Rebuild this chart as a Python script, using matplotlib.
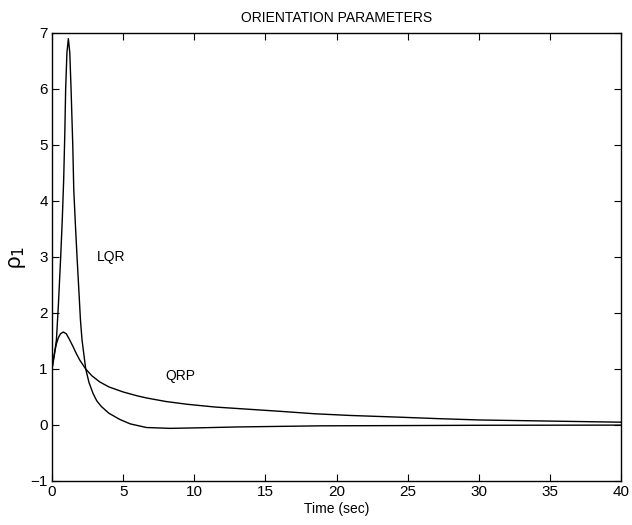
import matplotlib
matplotlib.use("Agg")
import matplotlib.pyplot as plt

# ====== DATA ======
lqr_t = [0, 0.15, 0.31, 0.45, 0.61, 0.72, 0.82, 0.9, 0.96, 1.05, 1.15, 1.25, 1.34,
         1.46, 1.53, 1.65, 1.76, 1.9, 2.0, 2.11, 2.37, 2.6, 2.88, 3.15, 3.47, 4.0,
         4.76, 5.5, 6.64, 8.3, 10.4, 13.0, 18.8, 25.0, 30.0, 40.0]
lqr_y = [1.0, 1.22, 1.52, 2.15, 3.0, 3.65, 4.375, 5.2, 6.0, 6.65, 6.9, 6.65, 6.0,
         5.0, 4.2, 3.55, 3.0, 2.35, 1.875, 1.52, 1.0, 0.76, 0.566, 0.43, 0.33, 0.21,
         0.10, 0.02, -0.045, -0.06, -0.05, -0.035, -0.015, -0.01, -0.005, -0.002]

qrp_t = [0, 0.1, 0.2, 0.31, 0.45, 0.6, 0.8, 1.0, 1.2, 1.48, 1.7, 1.95, 2.37, 2.8,
         3.35, 4.0, 5.0, 6.0, 6.7, 8.0, 9.5, 11.5, 13.9, 16.0, 18.5, 21.0, 24.4,
         27.0, 30.0, 35.0, 40.0]
qrp_y = [1.0, 1.18, 1.32, 1.45, 1.56, 1.63, 1.66, 1.63, 1.54, 1.40, 1.28, 1.16,
         1.0, 0.88, 0.77, 0.68, 0.59, 0.52, 0.48, 0.42, 0.37, 0.32, 0.28, 0.245,
         0.2, 0.17, 0.14, 0.115, 0.09, 0.07, 0.05]

x_ticks = [0, 5, 10, 15, 20, 25, 30, 35, 40]
y_ticks = [-1, 0, 1, 2, 3, 4, 5, 6, 7]

# ====== PLOT ======
plt.rcParams['font.family'] = ['Liberation Sans', 'DejaVu Sans']

fig = plt.figure(figsize=(6.32, 5.25), dpi=100)
ax = fig.add_axes([52 / 632, 1 - 481 / 525, 569 / 632, 448 / 525])

ax.plot(lqr_t, lqr_y, color="black", lw=1.0)
ax.plot(qrp_t, qrp_y, color="black", lw=1.0)

ax.text(3.15, 3.0, "LQR", fontsize=10, va="center", ha="left")
ax.text(7.97, 0.875, "QRP", fontsize=10, va="center", ha="left")

ax.set_xlim(0, 40)
ax.set_ylim(-1, 7)
ax.set_xticks(x_ticks)
ax.set_yticks(y_ticks)
ax.set_yticklabels(["\u22121" if v == -1 else str(v) for v in y_ticks])
ax.tick_params(direction="in", length=5, width=0.8, labelsize=11,
               top=True, right=True, pad=3)
for s in ax.spines.values():
    s.set_linewidth(1.0)

ax.set_title("ORIENTATION PARAMETERS", fontsize=10, pad=8)
ax.set_xlabel("Time (sec)", fontsize=10, labelpad=2)
ax.set_ylabel("\u03c1$_1$", fontsize=16, labelpad=2)

fig.savefig("out.png", dpi=100)
